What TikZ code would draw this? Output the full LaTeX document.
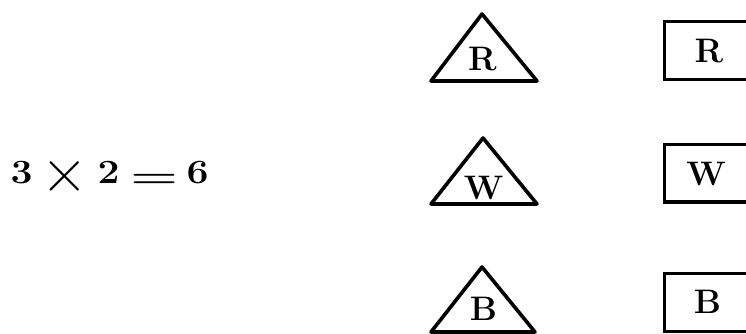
\documentclass[tikz,border=0pt]{standalone}
\usepackage{fontspec}
\usepackage{graphicx}
\begin{document}
\begin{tikzpicture}[x=1pt,y=-1pt,
  shp/.style={line width=3.6pt, line join=round},
  box/.style={line width=3.3pt, line join=miter},
  lab/.style={font=\fontsize{34}{40}\selectfont\bfseries, inner sep=0pt, anchor=base},
]
\useasboundingbox (0,0) rectangle (746,333);
% equation
\node[lab, anchor=base west] (eq) at (0,183)
  {\makebox[43pt]{\scalebox{1.15}[1]{3}}\makebox[44pt]{\raisebox{-9.5pt}{\scalebox{1.9}{\mdseries ×}}}\makebox[43pt]{\scalebox{1.15}[1]{2}}\makebox[48pt]{\raisebox{-4pt}{\scalebox{1.6}[1]{=}}}\makebox[39pt]{\scalebox{1.15}[1]{6}}};
% triangles
\coordinate (t1a) at (482,14); \coordinate (t1l) at (431,81); \coordinate (t1r) at (537,81);
\coordinate (t2a) at (483,138); \coordinate (t2l) at (431,204); \coordinate (t2r) at (537,204);
\coordinate (t3a) at (482,267); \coordinate (t3l) at (431,332); \coordinate (t3r) at (535,332);
\draw[shp] (t1a) -- (t1l) -- (t1r) -- cycle;
\draw[shp] (t2a) -- (t2l) -- (t2r) -- cycle;
\draw[shp] (t3a) -- (t3l) -- (t3r) -- cycle;
\node[lab] (tR) at (482.5,70) {R};
\node[lab] (tW) at (483.5,199) {W};
\node[lab] (tB) at (483.5,320) {B};
% boxes
\draw[box] (664.5,21.5) rectangle (756,79.5);
\draw[box] (664.5,144.5) rectangle (756,202);
\draw[box] (664.5,273.5) rectangle (756,331.5);
\node[lab] (bR) at (709,62) {R};
\node[lab] (bW) at (706,185) {W};
\node[lab] (bB) at (707.5,313) {B};
\end{tikzpicture}
\end{document}
